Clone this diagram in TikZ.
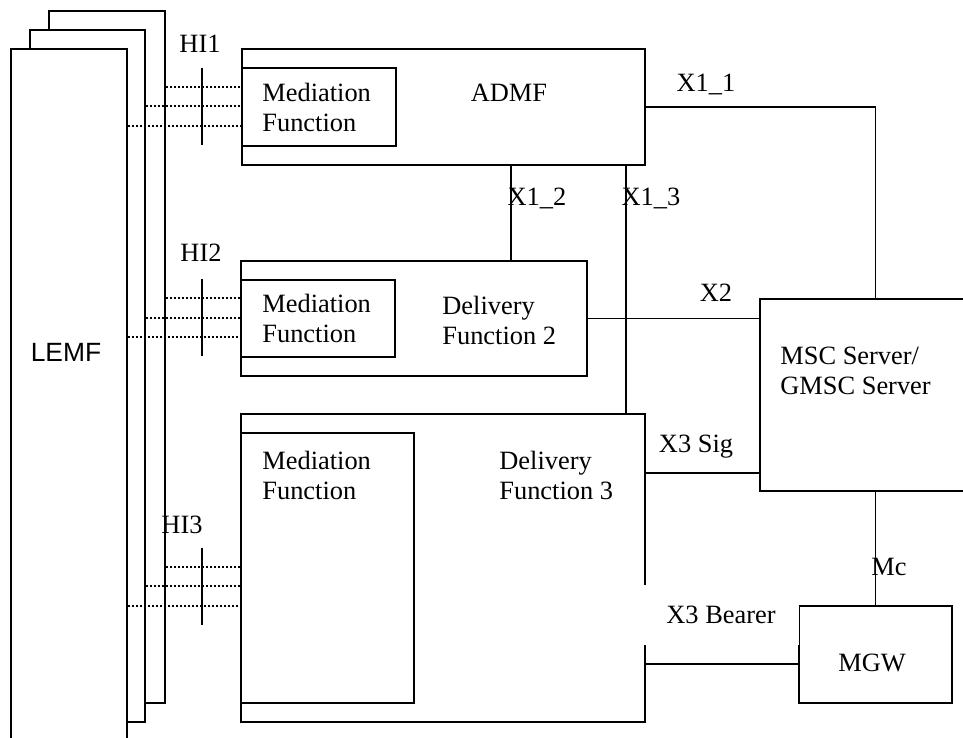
\documentclass[tikz,border=0pt]{standalone}
\usepackage{fontspec}
\setmainfont{Liberation Serif}
\newfontfamily\lemffont{Liberation Sans}
\usepackage{tikz}
\usetikzlibrary{calc,positioning}

\begin{document}
\begin{tikzpicture}[x=0.5pt,y=-0.5pt,
      every node/.style={font=\fontsize{13.2}{15}\selectfont},
      box/.style={draw,line width=1pt,fill=white,inner sep=0pt,anchor=north west},
      sz/.style 2 args={minimum width=#1*0.5pt,minimum height=#2*0.5pt},
      txt/.style={inner sep=0pt,align=left},
      link/.style={line width=0.7pt},
      hiline/.style={line width=1pt,dash pattern=on 1pt off 1pt},
      hibar/.style={line width=1pt}]
      \useasboundingbox (0,0) rectangle (963,738);
      % LEMF stack
      \node[box,sz={116}{692}] (lemf3) at (48,10) {};
      \node[box,sz={115}{692}] (lemf2) at (29,29) {};
      \node[box,sz={116}{702}] (lemf1) at (10,48) {};
      \node[txt,font=\lemffont\fontsize{13.2}{15}\selectfont] (lemf) at (66,352) {LEMF};
      % functions
      \node[box,sz={403}{116}] (admf) at (241,48) {};
      \node[box,sz={154}{78}] (admf_med) at (241,67) {};
      \node[box,sz={346}{115}] (df2) at (240,260) {};
      \node[box,sz={154}{77}] (df2_med) at (240,279) {};
      \node[box,sz={404}{308}] (df3) at (240,413) {};
      \node[box,sz={173}{270}] (df3_med) at (240,432) {};
      \node[box,sz={215}{192}] (msc) at (759,298) {};
      \node[box,sz={153}{97}] (mgw) at (798,605) {};
      \node[txt] (admf_t) at (509,93) {ADMF};
      \node[txt,anchor=west] (admf_med_t) at (262,107.5) {Mediation\\Function};
      \node[txt,anchor=west] (df2_t) at (442,320) {Delivery\\Function 2};
      \node[txt,anchor=west] (df2_med_t) at (262,318) {Mediation\\Function};
      \node[txt,anchor=west] (df3_t) at (499,475.5) {Delivery\\Function 3};
      \node[txt,anchor=west] (df3_med_t) at (262,475.5) {Mediation\\Function};
      \node[txt,anchor=west] (msc_t) at (780,371) {MSC Server/\\GMSC Server};
      \node[txt] (mgw_t) at (872,663) {MGW};
      % interfaces
      \draw[link] (admf.east) -| (mgw.north |- msc.north);
      \draw[link] ([xshift=48.5pt]df2.north) -- ([xshift=48.5pt]df2.north |- admf.south);
      \draw[link] ([xshift=-10pt]admf.south east) -- ([xshift=-10pt]admf.south east |- df3.north);
      \draw[link] (df2.east) -- (df2.east -| msc.west);
      \draw[link] ([yshift=9.5pt]msc.south west) -- ([yshift=9.5pt]msc.south west -| df3.east);
      \draw[link] (msc.south -| mgw.north) -- (mgw.north);
      \node[txt,fill=white,sz={156}{60}] (bearer) at (721,615) {X3 Bearer};
      \draw[link] ([yshift=-4.75pt]mgw.west) -- ([yshift=-4.75pt]mgw.west -| df3.east);
      \node[txt] (x11) at (706,84) {X1\_1};
      \node[txt] (x12) at (537,198) {X1\_2};
      \node[txt] (x13) at (651,198) {X1\_3};
      \node[txt] (x2) at (716,293) {X2};
      \node[txt] (x3sig) at (696,447) {X3 Sig};
      \node[txt] (mc) at (889,567) {Mc};
      % handover interfaces
      \coordinate (hi1) at (202,106.5);
      \coordinate (hi2) at (202,317.5);
      \coordinate (hi3) at (202,586);
      \foreach \c/\m in {hi1/admf_med,hi2/df2_med,hi3/df3_med}{
        \coordinate (\c a) at ([yshift=9.75pt]\c);
        \coordinate (\c b) at ([yshift=-9.75pt]\c);
        \draw[hiline] (\c a -| lemf3.east) -- (\c a -| \m.west);
        \draw[hiline] (\c -| lemf2.east) -- (\c -| \m.west);
        \draw[hiline] (\c b -| lemf1.east) -- (\c b -| \m.west);
        \draw[hibar] ([yshift=19.25pt]\c) -- ([yshift=-19.25pt]\c);
      }
      \node[txt] (hi1_t) at (200,44) {HI1};
      \node[txt] (hi2_t) at (201,253) {HI2};
      \node[txt] (hi3_t) at (182,525) {HI3};
    \end{tikzpicture}
\end{document}
